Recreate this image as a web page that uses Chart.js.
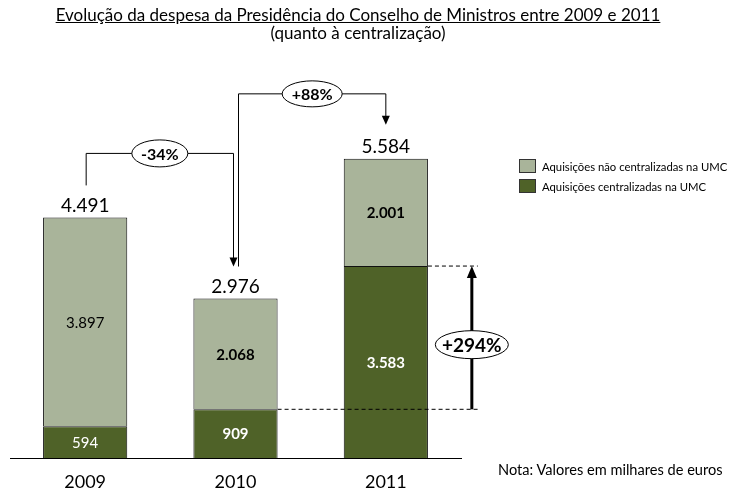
<!DOCTYPE html>
<html>
<head>
<meta charset="utf-8">
<script src="https://cdn.jsdelivr.net/npm/chart.js@4"></script>
<style>
    body { margin: 0; background: #fff; font-family: Lato, sans-serif; color: #000; }
    #wrap { position: relative; width: 751px; height: 493px; overflow: hidden; }
    canvas { position: absolute; left: 0; top: 0; }
    .title { position: absolute; left: 0; width: 716px; text-align: center; font-size: 17px; }
    .legend { position: absolute; left: 519px; font-size: 11.3px; }
    .legend span { display: inline-block; width: 15px; height: 12px; border: 1px solid #333; vertical-align: -2px; margin-right: 6px; }
    .note { position: absolute; left: 498px; top: 461px; font-size: 14.6px; }
</style>
</head>
<body>
<div id="wrap">
    <canvas id="chart" width="751" height="493"></canvas>
    <div class="title" style="top:4px; text-decoration: underline;">Evolução da despesa da Presidência do Conselho de Ministros entre 2009 e 2011</div>
    <div class="title" style="top:22px;">(quanto à centralização)</div>
    <div class="legend" style="top:159px;"><span style="background:#A9B49A"></span>Aquisições não centralizadas na UMC</div>
    <div class="legend" style="top:179px;"><span style="background:#4F6228"></span>Aquisições centralizadas na UMC</div>
    <div class="note">Nota: Valores em milhares de euros</div>
</div>
<script>
const years = ['2009', '2010', '2011'];
const centralizadas = [594, 909, 3583];
const naoCentralizadas = [3897, 2068, 2001];
const totais = [4491, 2976, 5584];
const variacoes = ['-34%', '+88%', '+294%'];

// labels inside the bars are bold except for 2009
const boldLabels = [false, true, true];

function fmt(n) {
    return String(n).replace(/\B(?=(\d{3})+(?!\d))/g, '.');
}

function arrowDown(ctx, x, tipY) {
    ctx.beginPath();
    ctx.moveTo(x - 4, tipY - 9);
    ctx.lineTo(x + 4, tipY - 9);
    ctx.lineTo(x, tipY);
    ctx.closePath();
    ctx.fill();
}

function bubble(ctx, cx, cy, w, h, text, size) {
    ctx.beginPath();
    ctx.ellipse(cx, cy, w / 2, h / 2, 0, 0, Math.PI * 2);
    ctx.fillStyle = '#fff';
    ctx.fill();
    ctx.lineWidth = 1;
    ctx.strokeStyle = '#000';
    ctx.stroke();
    ctx.fillStyle = '#000';
    ctx.font = `bold ${size}px Lato`;
    ctx.textAlign = 'center';
    ctx.textBaseline = 'middle';
    ctx.fillText(text, cx, cy + 1);
}

const annotations = {
    id: 'annotations',
    afterDatasetsDraw(chart) {
        const ctx = chart.ctx;
        const xs = chart.scales.x, ys = chart.scales.y;
        const dark = chart.getDatasetMeta(0).data;
        const light = chart.getDatasetMeta(1).data;
        ctx.save();

        // values inside the segments and totals above
        years.forEach((yr, i) => {
            const d = dark[i], l = light[i];
            const w = boldLabels[i] ? 'bold ' : '';
            ctx.textAlign = 'center';
            ctx.textBaseline = 'middle';
            ctx.font = `${w}15px Lato`;
            ctx.fillStyle = '#fff';
            ctx.fillText(fmt(centralizadas[i]), d.x, (d.y + d.base) / 2 + 1);
            ctx.fillStyle = '#000';
            ctx.fillText(fmt(naoCentralizadas[i]), l.x, (l.y + l.base) / 2 + 1);
            ctx.font = '19px Lato';
            ctx.fillText(fmt(totais[i]), l.x, l.y - 12);
        });

        const top = light.map(el => el.y);
        const x0 = xs.getPixelForValue(0) + 1;
        const x1 = xs.getPixelForValue(1);
        const x2 = xs.getPixelForValue(2);
        ctx.strokeStyle = '#000';
        ctx.fillStyle = '#000';
        ctx.lineWidth = 1;

        // 2009 -> 2010
        ctx.beginPath();
        ctx.moveTo(x0, top[0] - 32);
        ctx.lineTo(x0, top[0] - 64);
        ctx.lineTo(x1 - 2, top[0] - 64);
        ctx.lineTo(x1 - 2, top[1] - 38);
        ctx.stroke();
        arrowDown(ctx, x1 - 2, top[1] - 32);
        bubble(ctx, (x0 + x1) / 2 - 1, top[0] - 64, 56, 27, variacoes[0], 16);

        // 2010 -> 2011
        ctx.beginPath();
        ctx.moveTo(x1 + 3, top[1] - 32);
        ctx.lineTo(x1 + 3, top[2] - 65);
        ctx.lineTo(x2, top[2] - 65);
        ctx.lineTo(x2, top[2] - 40);
        ctx.stroke();
        arrowDown(ctx, x2, top[2] - 34);
        bubble(ctx, (x1 + 3 + x2) / 2, top[2] - 65, 60, 26, variacoes[1], 16);

        // centralised growth 2010 -> 2011
        const ax = x2 + 86;
        const yLow = ys.getPixelForValue(centralizadas[1]);
        const yHigh = ys.getPixelForValue(centralizadas[2]);
        ctx.setLineDash([4, 3]);
        ctx.beginPath();
        ctx.moveTo(dark[1].x + dark[1].width / 2, yLow);
        ctx.lineTo(ax + 6, yLow);
        ctx.moveTo(dark[2].x + dark[2].width / 2, yHigh);
        ctx.lineTo(ax + 6, yHigh);
        ctx.stroke();
        ctx.setLineDash([]);
        ctx.lineWidth = 3;
        ctx.beginPath();
        ctx.moveTo(ax, yLow);
        ctx.lineTo(ax, yHigh + 10);
        ctx.stroke();
        ctx.beginPath();
        ctx.moveTo(ax - 5, yHigh + 12);
        ctx.lineTo(ax + 5, yHigh + 12);
        ctx.lineTo(ax, yHigh);
        ctx.closePath();
        ctx.fill();
        bubble(ctx, ax, (yLow + yHigh) / 2 + 7, 73, 28, variacoes[2], 19);

        ctx.restore();
    }
};

new Chart(document.getElementById('chart'), {
    type: 'bar',
    data: {
        labels: years,
        datasets: [
            {
                label: 'Aquisições centralizadas na UMC',
                data: centralizadas,
                backgroundColor: '#4F6228',
                borderColor: '#111',
                borderWidth: 1,
                borderSkipped: 'start'
            },
            {
                label: 'Aquisições não centralizadas na UMC',
                data: naoCentralizadas,
                backgroundColor: '#A9B49A',
                borderColor: '#111',
                borderWidth: 1,
                borderSkipped: 'start'
            }
        ]
    },
    options: {
        responsive: false,
        animation: false,
        categoryPercentage: 1,
        barPercentage: 0.56,
        layout: { padding: { left: 10, right: 290, top: 83, bottom: 0 } },
        plugins: { legend: { display: false }, tooltip: { enabled: false } },
        scales: {
            x: {
                stacked: true,
                grid: { display: false, drawTicks: false },
                border: { color: '#000', width: 1 },
                ticks: { padding: 13, color: '#000', font: { family: 'Lato', size: 18 } },
                afterFit(scale) { scale.height = 35; }
            },
            y: { stacked: true, display: false, min: 0, max: 7000 }
        }
    },
    plugins: [annotations]
});
</script>
</body>
</html>
